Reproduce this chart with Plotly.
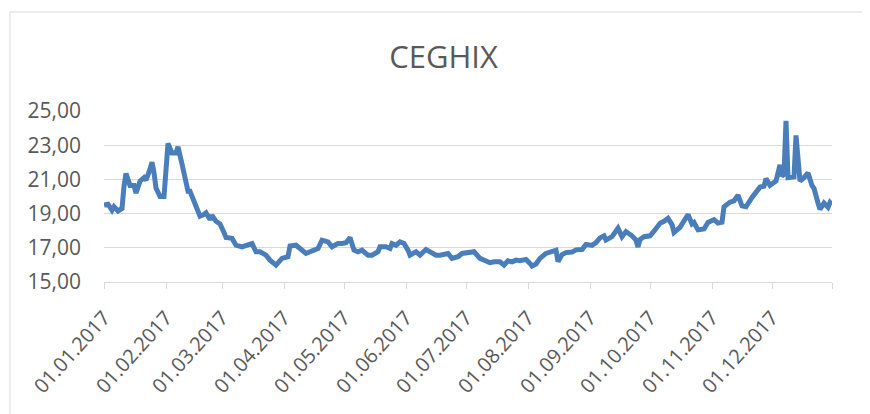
import plotly.graph_objects as go

title_text = "CEGHIX"

dates = [
    "2017-01-01", "2017-01-03", "2017-01-05", "2017-01-06", "2017-01-08", "2017-01-10",
    "2017-01-11", "2017-01-12", "2017-01-14", "2017-01-16", "2017-01-17", "2017-01-19",
    "2017-01-21", "2017-01-22", "2017-01-24", "2017-01-25", "2017-01-26", "2017-01-27",
    "2017-01-29", "2017-01-31", "2017-02-02", "2017-02-04", "2017-02-06", "2017-02-07",
    "2017-02-09", "2017-02-11", "2017-02-12", "2017-02-13", "2017-02-15", "2017-02-16",
    "2017-02-18", "2017-02-20", "2017-02-21", "2017-02-23", "2017-02-24", "2017-02-26",
    "2017-02-28", "2017-03-02", "2017-03-03", "2017-03-06", "2017-03-08", "2017-03-11",
    "2017-03-13", "2017-03-16", "2017-03-18", "2017-03-20", "2017-03-23", "2017-03-25",
    "2017-03-28", "2017-03-29", "2017-03-31", "2017-04-03", "2017-04-04", "2017-04-07",
    "2017-04-09", "2017-04-12", "2017-04-14", "2017-04-18", "2017-04-20", "2017-04-23",
    "2017-04-25", "2017-04-28", "2017-04-30", "2017-05-02", "2017-05-04", "2017-05-06",
    "2017-05-08", "2017-05-10", "2017-05-13", "2017-05-15", "2017-05-18", "2017-05-19",
    "2017-05-22", "2017-05-24", "2017-05-25", "2017-05-27", "2017-05-29", "2017-05-31",
    "2017-06-02", "2017-06-03", "2017-06-06", "2017-06-08", "2017-06-11", "2017-06-13",
    "2017-06-16", "2017-06-18", "2017-06-22", "2017-06-24", "2017-06-27", "2017-06-29",
    "2017-07-01", "2017-07-03", "2017-07-05", "2017-07-08", "2017-07-10", "2017-07-13",
    "2017-07-15", "2017-07-18", "2017-07-20", "2017-07-22", "2017-07-24", "2017-07-26",
    "2017-07-28", "2017-07-31", "2017-08-02", "2017-08-03", "2017-08-05", "2017-08-07",
    "2017-08-10", "2017-08-13", "2017-08-15", "2017-08-16", "2017-08-18", "2017-08-20",
    "2017-08-23", "2017-08-25", "2017-08-28", "2017-08-30", "2017-09-02", "2017-09-04",
    "2017-09-06", "2017-09-08", "2017-09-09", "2017-09-12", "2017-09-13", "2017-09-15",
    "2017-09-17", "2017-09-19", "2017-09-22", "2017-09-24", "2017-09-25", "2017-09-26",
    "2017-09-28", "2017-10-01", "2017-10-03", "2017-10-06", "2017-10-08", "2017-10-10",
    "2017-10-12", "2017-10-13", "2017-10-16", "2017-10-18", "2017-10-20", "2017-10-22",
    "2017-10-23", "2017-10-25", "2017-10-28", "2017-10-30", "2017-11-02", "2017-11-04",
    "2017-11-06", "2017-11-07", "2017-11-10", "2017-11-12", "2017-11-14", "2017-11-16",
    "2017-11-18", "2017-11-21", "2017-11-23", "2017-11-25", "2017-11-27", "2017-11-28",
    "2017-11-30", "2017-12-03", "2017-12-05", "2017-12-06", "2017-12-07", "2017-12-08",
    "2017-12-09", "2017-12-12", "2017-12-13", "2017-12-15", "2017-12-17", "2017-12-19",
    "2017-12-21", "2017-12-22", "2017-12-24", "2017-12-25", "2017-12-27", "2017-12-29",
    "2017-12-30", "2017-12-31",
]

values = [
    19.50, 19.55, 19.20, 19.40, 19.15, 19.30,
    20.60, 21.35, 20.65, 20.65, 20.20, 20.90,
    21.10, 20.95, 21.60, 22.00, 21.40, 20.50,
    20.00, 20.00, 23.10, 22.55, 22.55, 22.90,
    21.90, 21.00, 20.30, 20.30, 19.70, 19.45,
    18.85, 18.95, 19.05, 18.65, 18.90, 18.55,
    18.40, 17.90, 17.60, 17.55, 17.15, 17.05,
    17.15, 17.25, 16.77, 16.77, 16.57, 16.28,
    15.99, 16.09, 16.38, 16.48, 17.10, 17.15,
    16.96, 16.67, 16.77, 16.96, 17.45, 17.35,
    17.06, 17.25, 17.25, 17.30, 17.60, 16.86,
    16.77, 16.86, 16.57, 16.57, 16.77, 17.06,
    17.06, 16.96, 17.25, 17.15, 17.35, 17.25,
    16.86, 16.57, 16.77, 16.57, 16.90, 16.77,
    16.57, 16.57, 16.67, 16.38, 16.48, 16.67,
    16.70, 16.67, 16.77, 16.38, 16.28, 16.13,
    16.18, 16.18, 15.99, 16.24, 16.18, 16.28,
    16.24, 16.32, 16.09, 15.93, 16.05, 16.38,
    16.67, 16.83, 16.86, 16.20, 16.60, 16.72,
    16.75, 16.88, 16.90, 17.20, 17.14, 17.30,
    17.58, 17.70, 17.45, 17.65, 17.78, 18.15,
    17.65, 17.95, 17.70, 17.45, 17.05, 17.49,
    17.65, 17.70, 17.97, 18.43, 18.55, 18.72,
    18.36, 17.90, 18.20, 18.65, 18.95, 18.40,
    18.48, 18.05, 18.10, 18.48, 18.65, 18.45,
    18.50, 19.40, 19.67, 19.75, 20.08, 19.45,
    19.40, 19.95, 20.20, 20.55, 20.60, 21.05,
    20.65, 20.90, 21.85, 21.20, 21.30, 24.43,
    21.10, 21.15, 23.57, 20.90, 21.10, 21.38,
    20.64, 20.48, 19.62, 19.25, 19.62, 19.37,
    19.65, 19.52,
]

tick_dates = [
    "2017-01-01", "2017-02-01", "2017-03-01", "2017-04-01", "2017-05-01", "2017-06-01",
    "2017-07-01", "2017-08-01", "2017-09-01", "2017-10-01", "2017-11-01", "2017-12-01",
    "2017-12-31",
]
tick_labels = [
    "01.01.2017", "01.02.2017", "01.03.2017", "01.04.2017", "01.05.2017", "01.06.2017",
    "01.07.2017", "01.08.2017", "01.09.2017", "01.10.2017", "01.11.2017", "01.12.2017",
    "",
]
y_ticks = [15, 17, 19, 21, 23, 25]

# the page body adds an 8px offset; compensate so the figure lands like the reference
OFF = 8
W, H = 870, 414
ML, MT = 104 - OFF, 111 - OFF
pw, ph = 728, 171
MR, MB = W - ML - pw, H - MT - ph

def px_x(p):
    return (p - OFF - ML) / pw

def px_y(p):
    return (H - MB - (p - OFF)) / ph

fig = go.Figure()
fig.add_trace(go.Scatter(
    x=dates, y=values, mode="lines",
    line=dict(color="#4A7EBB", width=5),
    hoverinfo="x+y",
))

fig.update_layout(
    width=W, height=H,
    margin=dict(l=ML, r=MR, t=MT, b=MB),
    paper_bgcolor="white", plot_bgcolor="white",
    separators=",.",
    showlegend=False,
    font=dict(family="Open Sans", color="#595959", size=19),
    title=dict(
        text=title_text, x=(443.5 - OFF) / W, xref="container", xanchor="center",
        y=1 - (57 - OFF) / H, yref="container", yanchor="middle",
        font=dict(family="Open Sans", size=31, color="#595959"),
    ),
    xaxis=dict(
        type="date",
        range=["2017-01-01", "2017-12-31"],
        tickmode="array", tickvals=tick_dates, ticktext=tick_labels,
        tickangle=-48,
        ticks="outside", ticklen=6, tickcolor="#D9D9D9", tickwidth=1,
        ticklabelstandoff=9,
        showgrid=False, showline=True, linecolor="#D9D9D9", linewidth=1,
        zeroline=False,
        tickfont=dict(family="Open Sans", size=20, color="#595959"),
    ),
    yaxis=dict(
        range=[15, 25], tickmode="array", tickvals=y_ticks,
        tickformat=".2f",
        showgrid=True, gridcolor="#D9D9D9", gridwidth=1,
        showline=False, zeroline=False, ticks="",
        ticklabelstandoff=22,
        tickfont=dict(family="Open Sans", size=21, color="#595959"),
    ),
    shapes=[
        dict(type="line", xref="paper", yref="paper",
             x0=px_x(10), x1=px_x(W + 20), y0=px_y(12), y1=px_y(12),
             line=dict(color="#D9D9D9", width=1)),
        dict(type="line", xref="paper", yref="paper",
             x0=px_x(10), x1=px_x(10), y0=px_y(12), y1=px_y(H + 20),
             line=dict(color="#D9D9D9", width=1)),
    ],
)

fig.write_html("out.html")
